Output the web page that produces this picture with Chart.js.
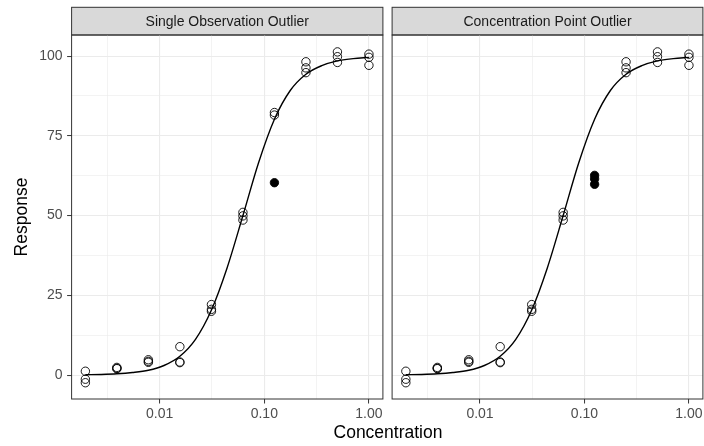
<!DOCTYPE html>
<html lang="en">
<head>
    <meta charset="UTF-8">
    <title>Dose response outliers</title>
    <script src="https://cdn.jsdelivr.net/npm/chart.js"></script>
    <style>
        * { margin: 0; padding: 0; box-sizing: border-box; }
        body {
            background: #fff;
            width: 704px;
            height: 446px;
            overflow: hidden;
            font-family: 'Liberation Sans', Arial, sans-serif;
        }
        #wrap { position: relative; width: 704px; height: 446px; overflow: hidden; }
        #left { position: absolute; left: 0; top: 0; }
        /* chart.js keeps ~5px on the right of the area, so this canvas runs past the edge */
        #right { position: absolute; left: 387px; top: 0; }
        #xtitle {
            position: absolute;
            left: 72px;
            width: 632px;
            top: 422px;
            text-align: center;
            font-size: 17.5px;
            line-height: 20px;
            color: #000;
        }
    </style>
</head>
<body>
<div id="wrap">
    <canvas id="left" width="388" height="446"></canvas>
    <canvas id="right" width="321" height="446"></canvas>
    <div id="xtitle">Concentration</div>
</div>

<script>
    // concentrations tested (3 replicates each)
    const conc = [0.00195, 0.0039, 0.0078, 0.0156, 0.03125, 0.0625, 0.125, 0.25, 0.5, 1];

    // open points, facet 1 (outlier replicate removed at 0.125)
    const singleOpen = [
        [1.2, -1.3, -2.4], [2.4, 2.1, 2.0], [4.8, 4.3, 4.0], [8.9, 4.1, 3.9],
        [22.1, 20.6, 20.0], [51.0, 49.9, 48.6], [82.3, 81.5], [98.2, 96.3, 94.8],
        [101.3, 99.8, 98.0], [100.6, 99.6, 97.1]
    ];
    const singleOutlier = [60.3];

    // open points, facet 2 (whole 0.125 group is the outlier)
    const pointOpen = [
        [1.2, -1.3, -2.4], [2.4, 2.1, 2.0], [4.8, 4.3, 4.0], [8.9, 4.1, 3.9],
        [22.1, 20.6, 20.0], [51.0, 49.9, 48.6], [], [98.2, 96.3, 94.8],
        [101.3, 99.8, 98.0], [100.6, 99.6, 97.1]
    ];
    const pointOutlier = [62.6, 61.5, 59.8];
    const outlierConc = 0.125;

    // fitted curve
    const curveConc = [0.00195, 0.00276, 0.0039, 0.0055, 0.0078, 0.011, 0.0156, 0.022, 0.03125,
        0.044, 0.0625, 0.088, 0.125, 0.177, 0.25, 0.354, 0.5, 0.707, 1];
    const curveResp = [0.1, 0.2, 0.4, 0.8, 1.5, 3.0, 5.9, 11.2, 20.4,
        33.5, 50.0, 66.5, 80.2, 89.2, 94.3, 97.0, 98.5, 99.2, 99.6];

    // axis ticks (minor ones have empty labels)
    const xTicks = [0.00316, 0.01, 0.0316, 0.1, 0.316, 1];
    const xTickLabels = ['', '0.01', '', '0.10', '', '1.00'];
    const yTicks = [0, 12.5, 25, 37.5, 50, 62.5, 75, 87.5, 100];
    const yTickLabels = ['0', '', '25', '', '50', '', '75', '', '100'];

    const FONT = "'Liberation Sans', Arial, sans-serif";

    const panelFrame = {
        id: 'panelFrame',
        beforeDraw(chart, args, opts) {
            const a = chart.chartArea, c = chart.ctx;
            c.save();
            c.fillStyle = '#D9D9D9';
            c.fillRect(a.left, opts.stripTop, a.right - a.left, a.top - opts.stripTop);
            c.strokeStyle = '#333333';
            c.lineWidth = 1;
            c.strokeRect(a.left, opts.stripTop, a.right - a.left, a.top - opts.stripTop);
            c.fillStyle = '#1A1A1A';
            c.font = '14px ' + FONT;
            c.textAlign = 'center';
            c.textBaseline = 'middle';
            c.fillText(opts.label, (a.left + a.right) / 2, (opts.stripTop + a.top) / 2 + 0.5);
            c.restore();
        },
        afterDatasetsDraw(chart) {
            const a = chart.chartArea, c = chart.ctx;
            c.save();
            c.strokeStyle = '#333333';
            c.lineWidth = 1;
            c.strokeRect(a.left, a.top, a.right - a.left, a.bottom - a.top);
            c.restore();
        }
    };

    function pts(open) {
        const out = [];
        open.forEach((reps, i) => reps.forEach(r => out.push({x: conc[i], y: r})));
        return out;
    }

    function isMajorX(v) {
        const i = xTicks.findIndex(t => Math.abs(t - v) / t < 1e-3);
        return i >= 0 && xTickLabels[i] !== '';
    }
    function isMajorY(v) {
        const i = yTicks.indexOf(v);
        return i >= 0 && yTickLabels[i] !== '';
    }

    function makePanel(id, label, open, filled, isLeft, yWidth, padRight) {
        const ctx = document.getElementById(id).getContext('2d');
        return new Chart(ctx, {
            type: 'scatter',
            data: {
                datasets: [{
                    type: 'line',
                    data: curveConc.map((x, i) => ({x: x, y: curveResp[i]})),
                    borderColor: '#000',
                    borderWidth: 1.4,
                    pointRadius: 0,
                    fill: false,
                    cubicInterpolationMode: 'monotone'
                }, {
                    data: pts(open),
                    pointRadius: 4.2,
                    borderWidth: 0.9,
                    borderColor: '#000',
                    backgroundColor: 'rgba(0,0,0,0)'
                }, {
                    data: filled.map(v => ({x: outlierConc, y: v})),
                    pointRadius: 4.2,
                    borderWidth: 0.9,
                    borderColor: '#000',
                    backgroundColor: '#000'
                }]
            },
            options: {
                responsive: false,
                animation: false,
                devicePixelRatio: 1,
                layout: {padding: {top: 35, right: padRight, left: 0, bottom: 0}},
                plugins: {
                    legend: {display: false},
                    tooltip: {enabled: false},
                    panelFrame: {label: label, stripTop: 7.3}
                },
                scales: {
                    x: {
                        type: 'logarithmic',
                        min: 0.00144,
                        max: 1.36,
                        afterBuildTicks: s => { s.ticks = xTicks.map(v => ({value: v})); },
                        afterFit: s => {
                            s.height = 47;
                            s.paddingLeft = 0;
                            s.paddingRight = 0;
                        },
                        border: {display: false},
                        grid: {
                            color: '#EBEBEB',
                            lineWidth: c => isMajorX(c.tick.value) ? 1.1 : 0.6,
                            tickLength: 4.5,
                            tickWidth: 1,
                            tickColor: c => isMajorX(c.tick.value) ? '#333333' : 'rgba(0,0,0,0)'
                        },
                        ticks: {
                            autoSkip: false,
                            maxRotation: 0,
                            padding: 2.5,
                            color: '#4D4D4D',
                            font: {size: 14, family: FONT},
                            callback: v => {
                                const i = xTicks.findIndex(t => Math.abs(t - v) / t < 1e-3);
                                return i >= 0 ? xTickLabels[i] : '';
                            }
                        }
                    },
                    y: {
                        type: 'linear',
                        min: -7.5,
                        max: 106.6,
                        afterBuildTicks: s => { s.ticks = yTicks.map(v => ({value: v})); },
                        afterFit: s => { s.width = yWidth; },
                        border: {display: false},
                        grid: {
                            color: '#EBEBEB',
                            lineWidth: c => isMajorY(c.tick.value) ? 1.1 : 0.6,
                            drawTicks: isLeft,
                            tickLength: 4.5,
                            tickWidth: 1,
                            tickColor: c => isMajorY(c.tick.value) ? '#333333' : 'rgba(0,0,0,0)'
                        },
                        ticks: {
                            display: isLeft,
                            padding: 4.5,
                            color: '#4D4D4D',
                            font: {size: 14, family: FONT},
                            callback: v => {
                                const i = yTicks.indexOf(v);
                                return i >= 0 ? yTickLabels[i] : '';
                            }
                        },
                        title: {
                            display: isLeft,
                            text: 'Response',
                            color: '#000',
                            font: {size: 17.5, family: FONT},
                            padding: {top: 12, bottom: 0}
                        }
                    }
                }
            },
            plugins: [panelFrame]
        });
    }

    makePanel('left', 'Single Observation Outlier', singleOpen, singleOutlier, true, 71.6, 4.7);
    makePanel('right', 'Concentration Point Outlier', pointOpen, pointOutlier, false, 4.6, 0);
</script>
</body>
</html>
